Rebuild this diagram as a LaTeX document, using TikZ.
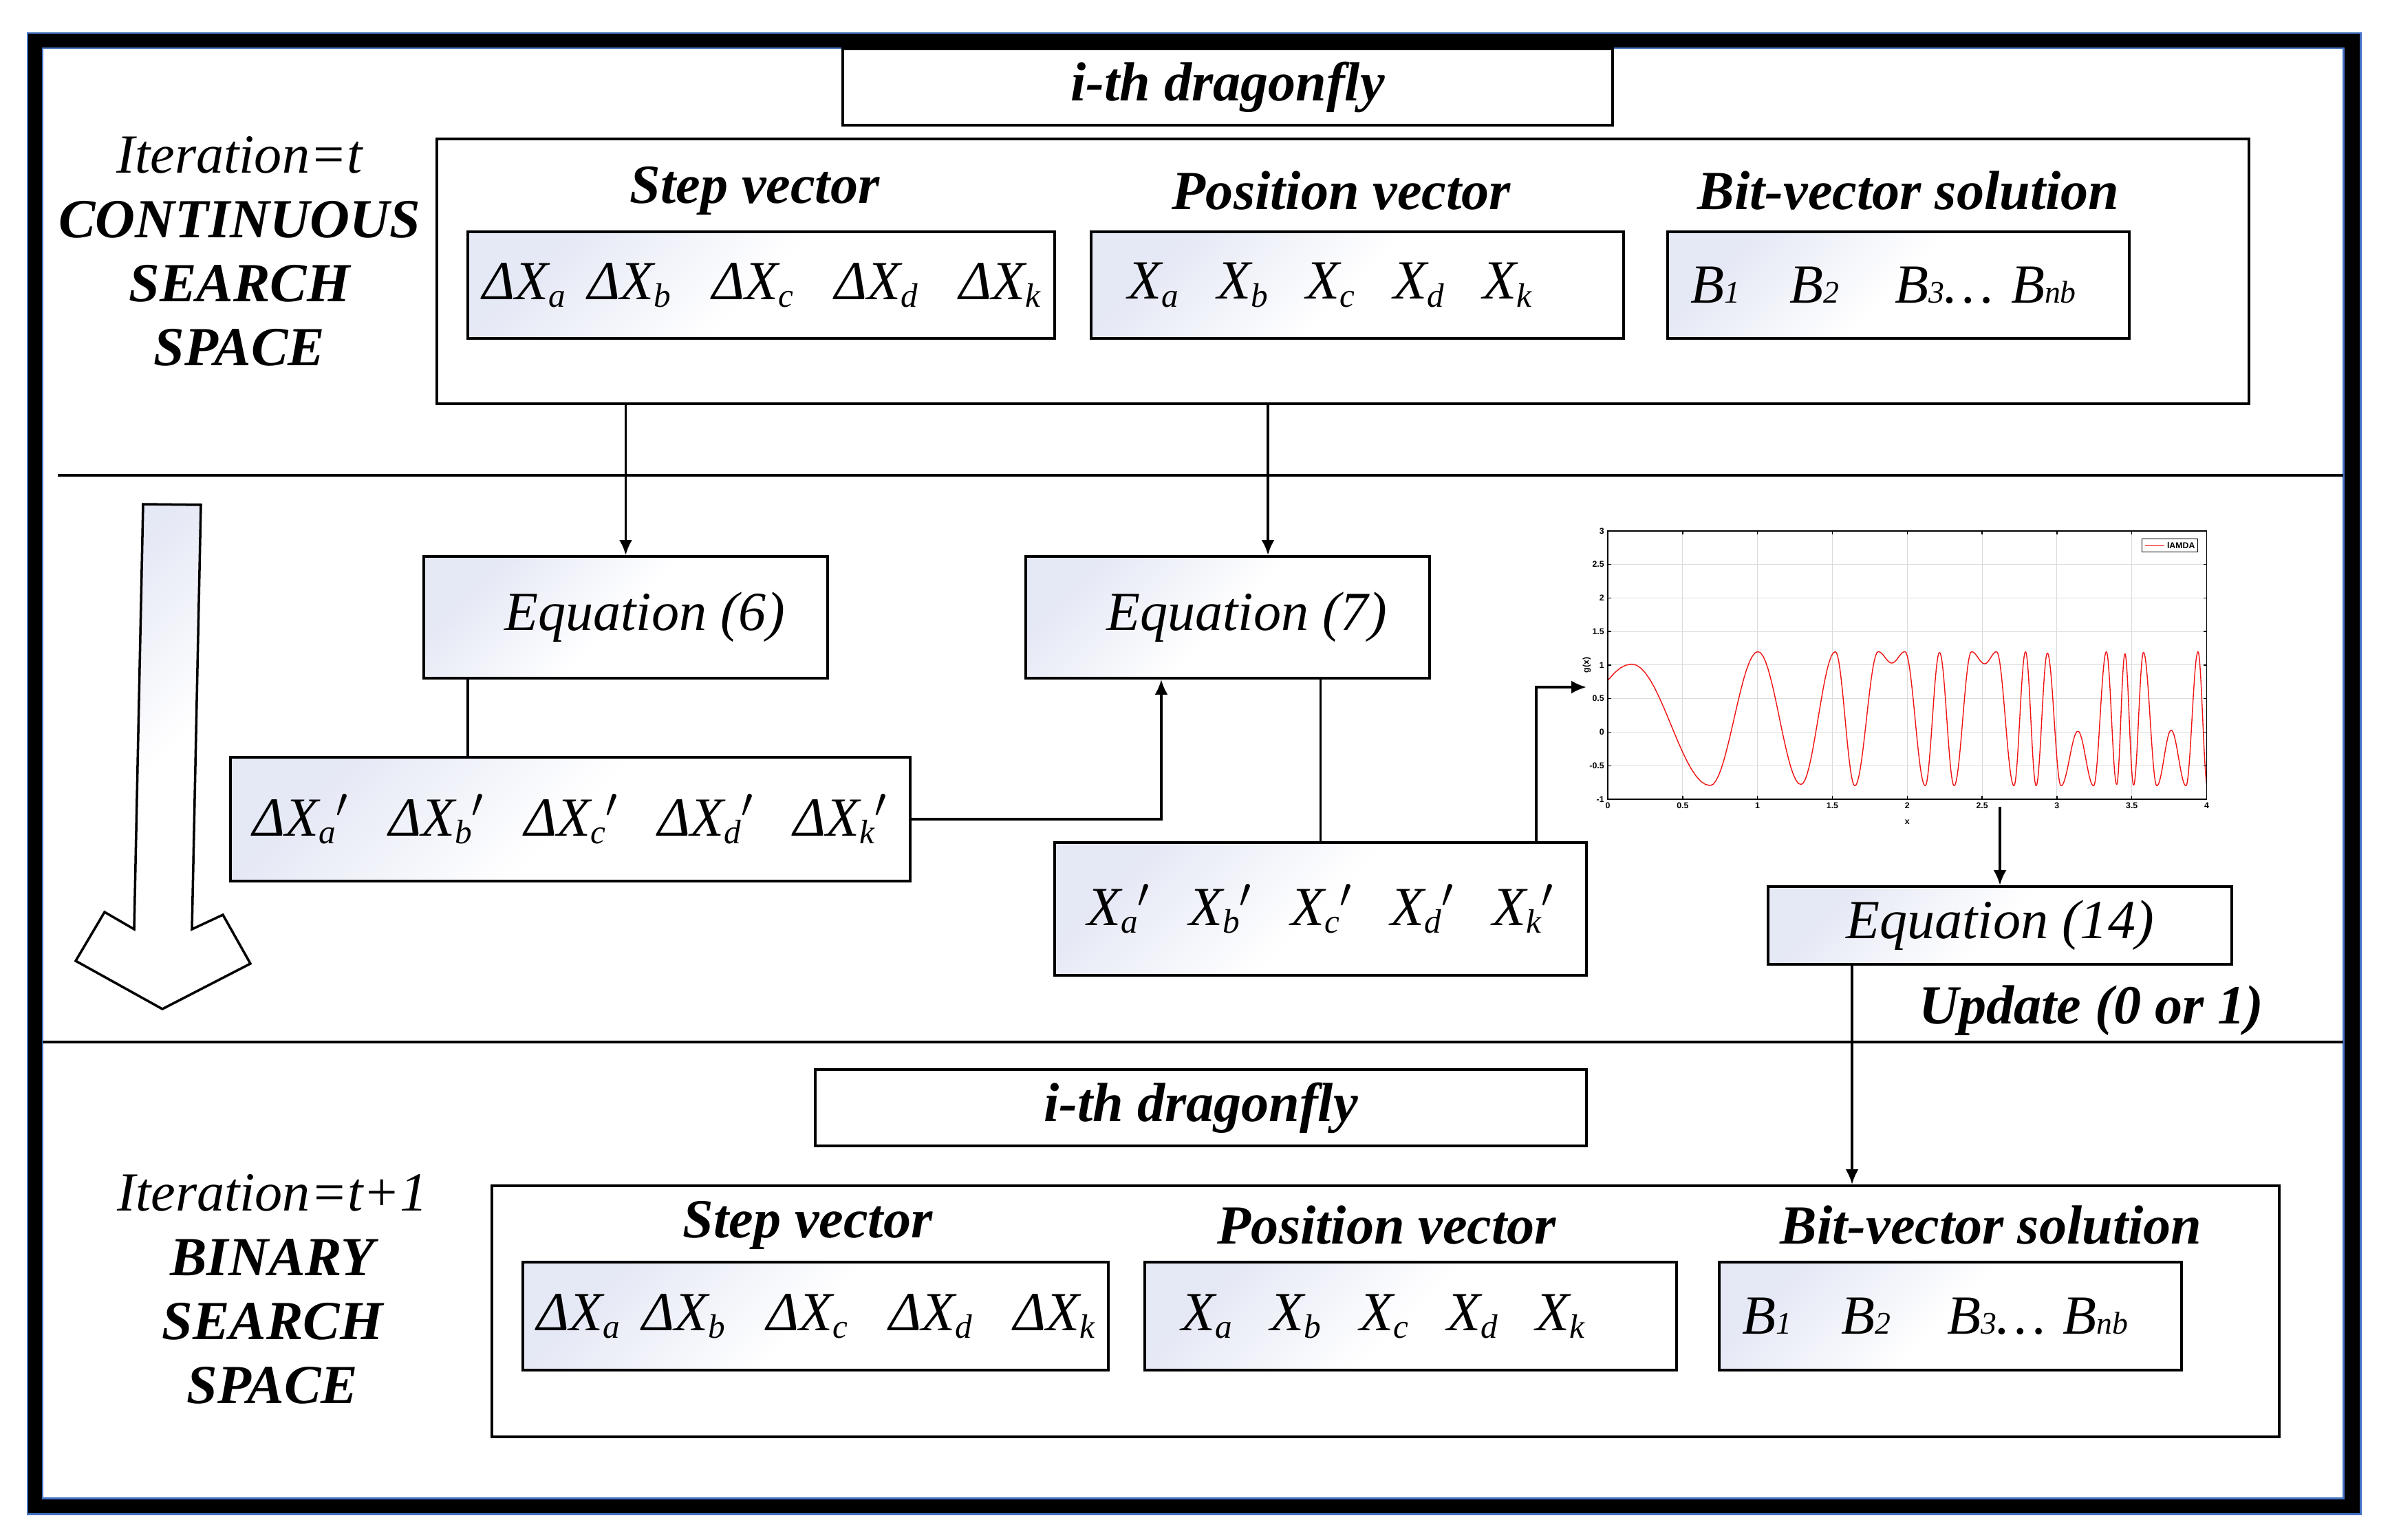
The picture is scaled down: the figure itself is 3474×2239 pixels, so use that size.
\documentclass[tikz,border=0pt]{standalone}
\usepackage{fontspec}
\setmainfont{Liberation Serif}
\newfontfamily\plotfont{Liberation Sans}
\usetikzlibrary{arrows.meta}

\definecolor{frameblue}{RGB}{68,114,196}
\definecolor{lavender}{RGB}{229,232,245}
\definecolor{curvered}{RGB}{240,20,20}

\newcommand\bigfont{\fontsize{22.8}{26.5}\selectfont}
\newcommand\plotsize{\fontsize{3.5}{4}\selectfont}
\newcommand\lowidx[1]{\raisebox{-0.11cm}{\fontsize{14}{14}\selectfont #1}}
\newcommand\bitidx[1]{{\fontsize{13}{13}\selectfont #1}}
\newcommand\dstep[1]{ΔX\lowidx{#1}}
\newcommand\xpos[1]{X\lowidx{#1}}

\tikzset{
  plainbox/.style={draw, line width=1.05pt, inner sep=0pt, font=\bigfont\itshape},
  gradbox/.style={plainbox, top color=lavender, bottom color=white, middle color=white, shading angle=45},
  heading/.style={font=\bigfont\bfseries\itshape, inner sep=0pt},
  conn/.style={line width=1pt},
  arr/.style={conn, -{Latex[length=2.2mm,width=1.9mm]}},
  gridline/.style={gray!28, line width=0.3pt},
  axisline/.style={black, line width=0.4pt},
  ticklbl/.style={font=\plotfont\plotsize\bfseries, inner sep=0.4pt}
}

\begin{document}
\begin{tikzpicture}[x=0.01cm, y=-0.01cm]
\useasboundingbox (0,0) rectangle (3474,2239);

% Drawing the double frame
\fill[black] (40,48) rectangle (3431,2201);
\draw[frameblue, line width=0.85pt] (40,48) rectangle (3431,2201);
\filldraw[fill=white, draw=frameblue, line width=0.85pt] (62,70) rectangle (3406,2178);

% Drawing separators
\draw[line width=1.1pt] (84,691) -- (3406,691);
\draw[line width=1.1pt] (62,1515) -- (3406,1515);

% Iteration t, continuous space
\node[plainbox, minimum width=11.19cm, minimum height=1.11cm, font=\bigfont\bfseries\itshape] (dragTop) at (1784.5,126.5) {i-th dragonfly};
\node[heading, align=center] (spaceTop) at (348,365.5) {{\mdseries Iteration=t}\\CONTINUOUS\\SEARCH\\SPACE};
\node[plainbox, minimum width=26.32cm, minimum height=3.85cm] (topFrame) at (1952,394.5) {};
\node[heading] (stepTtlTop) at (1097,277) {Step vector};
\node[heading] (posTtlTop) at (1950,277) {Position vector};
\node[heading] (bitTtlTop) at (2774,277) {Bit-vector solution};
\node[gradbox, minimum width=8.53cm, minimum height=1.55cm] (stepTop) at (1106.5,414.5)
  {\dstep{a}\hspace{0.33cm}\dstep{b}\hspace{0.6cm}\dstep{c}\hspace{0.6cm}\dstep{d}\hspace{0.6cm}\dstep{k}};
\node[gradbox, minimum width=7.74cm, minimum height=1.55cm] (posTop) at (1973,414.5)
  {\xpos{a}\hspace{0.56cm}\xpos{b}\hspace{0.56cm}\xpos{c}\hspace{0.56cm}\xpos{d}\hspace{0.56cm}\xpos{k}\hspace{0.8cm}\null};
\node[gradbox, minimum width=6.71cm, minimum height=1.55cm] (bitTop) at (2759.5,414.5)
  {B\bitidx{1}\hspace{0.72cm}B\bitidx{2}\hspace{0.82cm}B\bitidx{3}…\hspace{0.25cm}B\bitidx{nb}\hspace{0.44cm}\null};

% Update step
\draw[line width=1pt, top color=lavender, bottom color=white, middle color=white, shading angle=45]
  (208,733) -- (292,734) -- (279,1351) -- (324,1330) -- (364,1401) -- (236,1467)
  -- (110,1397) -- (152,1326) -- (195,1351) -- cycle;
\node[gradbox, minimum width=5.87cm, minimum height=1.77cm] (eqSix) at (909.5,897.5) {\hspace*{0.55cm}Equation (6)};
\node[gradbox, minimum width=5.87cm, minimum height=1.77cm] (eqSeven) at (1784.5,897.5) {\hspace*{0.55cm}Equation (7)};
\node[gradbox, minimum width=9.88cm, minimum height=1.80cm] (stepNew) at (829,1191)
  {\dstep{a}$'$\hspace{0.58cm}\dstep{b}$'$\hspace{0.58cm}\dstep{c}$'$\hspace{0.58cm}\dstep{d}$'$\hspace{0.58cm}\dstep{k}$'$};
\node[gradbox, minimum width=7.73cm, minimum height=1.93cm] (xNew) at (1919.5,1321.5)
  {\xpos{a}$'$\hspace{0.56cm}\xpos{b}$'$\hspace{0.56cm}\xpos{c}$'$\hspace{0.56cm}\xpos{d}$'$\hspace{0.56cm}\xpos{k}$'$};
\node[gradbox, minimum width=6.74cm, minimum height=1.13cm] (eqFourteen) at (2907,1345.5) {Equation (14)};
\node[heading] (updateLbl) at (3040,1469) {Update (0 or 1)};

% Drawing plot of g(x)
\begin{scope}[shift={(2337,1064.5)}, x=2.175cm, y=0.975cm]
  \foreach \gx in {0.5,1,1.5,2,2.5,3,3.5} \draw[gridline] (\gx,-1) -- (\gx,3);
  \foreach \gy in {-0.5,0,0.5,1,1.5,2,2.5} \draw[gridline] (0,\gy) -- (4,\gy);
  \begin{scope}
    \clip (0,-1) rectangle (4,3);
    \foreach \xb/\yb [remember=\xb as \xa (initially -0.51), remember=\yb as \ya (initially -0.8)] in
      {0.16/1.014, 0.684/-0.795, 1.003/1.2, 1.29/-0.78, 1.52/1.2, 1.65/-0.8, 1.806/1.2,
       1.897/1.03, 1.985/1.2, 2.12/-0.8, 2.216/1.19, 2.313/-0.8, 2.429/1.2, 2.517/1.02,
       2.597/1.2, 2.713/-0.8, 2.79/1.2, 2.861/-0.8, 2.936/1.18, 3.027/-0.8, 3.14/0.014,
       3.245/-0.8, 3.33/1.2, 3.399/-0.78, 3.454/1.17, 3.512/-0.79, 3.578/1.19, 3.667/-0.8,
       3.763/0.03, 3.862/-0.8, 3.942/1.2, 4.005/-0.8}
      \draw[curvered, line width=0.4pt] plot[domain=0:1, samples=18, variable=\t]
        ({\xa+(\xb-\xa)*\t}, {\ya+(\yb-\ya)*(1-cos(180*\t))/2});
  \end{scope}
  \foreach \gx [count=\i] in {0,0.5,1,1.5,2,2.5,3,3.5,4} {
    \draw[axisline] (\gx,-1) -- (\gx,-0.95) (\gx,3) -- (\gx,2.95);
    \node[ticklbl, anchor=north] (xtick\i) at (\gx,-1.03) {\gx};
  }
  \foreach \gy [count=\i] in {-1,-0.5,0,0.5,1,1.5,2,2.5,3} {
    \draw[axisline] (0,\gy) -- (0.022,\gy) (4,\gy) -- (3.978,\gy);
    \node[ticklbl, anchor=east] (ytick\i) at (-0.015,\gy) {\gy};
  }
  \draw[axisline] (0,-1) rectangle (4,3);
  \node[ticklbl, rotate=90] (ylbl) at (-0.14,1.0) {g(x)};
  \node[ticklbl] (xlbl) at (2,-1.34) {x};
  \node[draw, line width=0.3pt, inner sep=0pt, minimum width=0.81cm, minimum height=0.19cm] (legend) at (3.754,2.78) {};
  \draw[curvered, line width=0.4pt] ([xshift=0.5mm]legend.west) -- ([xshift=3.3mm]legend.west);
  \node[ticklbl, anchor=west] (legendTxt) at ([xshift=3.5mm]legend.west) {lAMDA};
\end{scope}
\coordinate (plotin) at (2306,999);
\coordinate (plotout) at (2907,1173);

% Iteration t+1, binary space
\node[plainbox, minimum width=11.21cm, minimum height=1.11cm, font=\bigfont\bfseries\itshape] (dragBot) at (1745.5,1610.5) {i-th dragonfly};
\node[heading, align=center] (spaceBot) at (396,1874.5) {{\mdseries Iteration=t+1}\\BINARY\\SEARCH\\SPACE};
\node[plainbox, minimum width=25.96cm, minimum height=3.65cm] (botFrame) at (2014,1906.5) {};
\node[heading] (stepTtlBot) at (1174,1781) {Step vector};
\node[heading] (posTtlBot) at (2016,1781) {Position vector};
\node[heading] (bitTtlBot) at (2894,1781) {Bit-vector solution};
\node[gradbox, minimum width=8.51cm, minimum height=1.57cm] (stepBot) at (1185.5,1913.5)
  {\dstep{a}\hspace{0.33cm}\dstep{b}\hspace{0.6cm}\dstep{c}\hspace{0.6cm}\dstep{d}\hspace{0.6cm}\dstep{k}};
\node[gradbox, minimum width=7.73cm, minimum height=1.57cm] (posBot) at (2050.5,1913.5)
  {\xpos{a}\hspace{0.56cm}\xpos{b}\hspace{0.56cm}\xpos{c}\hspace{0.56cm}\xpos{d}\hspace{0.56cm}\xpos{k}\hspace{0.8cm}\null};
\node[gradbox, minimum width=6.72cm, minimum height=1.57cm] (bitBot) at (2835,1913.5)
  {B\bitidx{1}\hspace{0.72cm}B\bitidx{2}\hspace{0.82cm}B\bitidx{3}…\hspace{0.25cm}B\bitidx{nb}\hspace{0.44cm}\null};

% Drawing connectors
\draw[arr] (eqSix.north |- topFrame.south) -- (eqSix.north);
\draw[arr] ([xshift=0.585cm]eqSeven.north |- topFrame.south) -- ([xshift=0.585cm]eqSeven.north);
\draw[conn] ([xshift=0.66cm]eqSix.south west) -- ([xshift=0.66cm]eqSix.south west |- stepNew.north);
\draw[arr] (stepNew.east) -| ([xshift=-0.965cm]eqSeven.south);
\draw[conn] (xNew.north |- eqSeven.south) -- (xNew.north);
\draw[arr] ([xshift=-0.75cm]xNew.north east) |- (plotin);
\draw[arr] (plotout) -- (eqFourteen.north);
\draw[arr] ([xshift=1.24cm]eqFourteen.south west) -- ([xshift=1.24cm]eqFourteen.south west |- botFrame.north);
\end{tikzpicture}
\end{document}
